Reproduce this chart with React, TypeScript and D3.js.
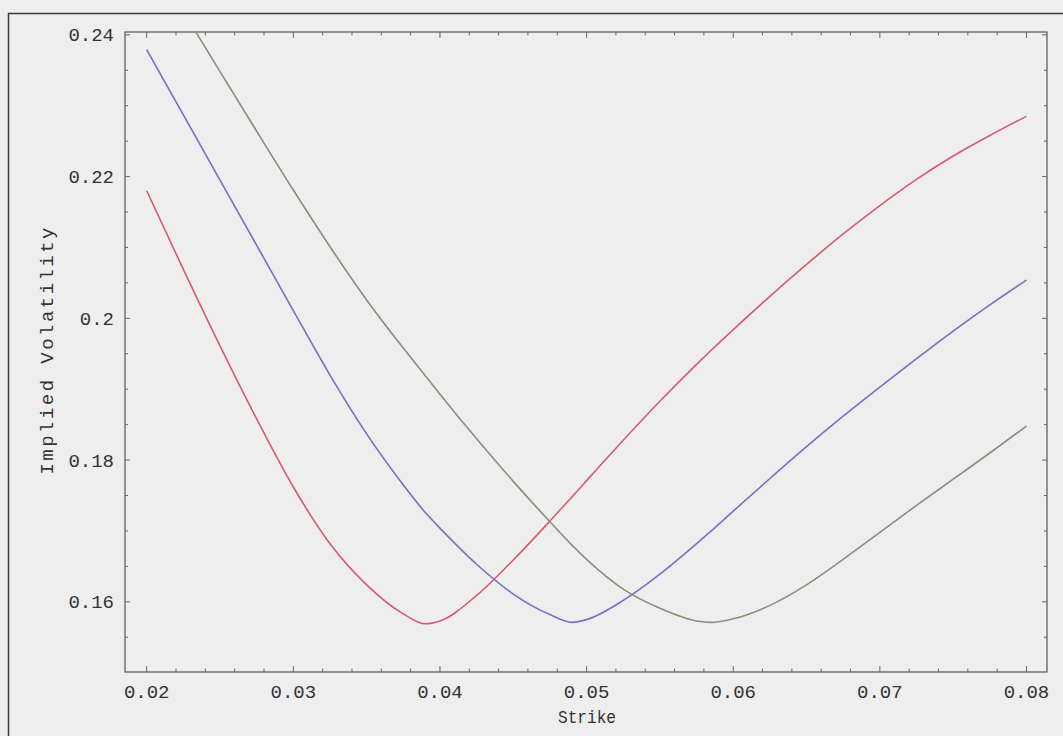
import React, { useEffect, useRef } from "react";
import * as d3 from "d3";

const strikes = [0.02, 0.0225, 0.025, 0.0275, 0.03, 0.0325, 0.035, 0.0375, 0.039, 0.04, 0.0425, 0.045, 0.0475, 0.049, 0.05, 0.0525, 0.055, 0.0575, 0.0585, 0.06, 0.0625, 0.065, 0.0675, 0.07, 0.0725, 0.075, 0.0775, 0.08];

const redVol = [0.2180, 0.2069, 0.1961, 0.1858, 0.1762, 0.1682, 0.1624, 0.1583, 0.1569, 0.1573, 0.1609, 0.1659, 0.1714, 0.1748, 0.1771, 0.1828, 0.1883, 0.1935, 0.1955, 0.1984, 0.2031, 0.2076, 0.2119, 0.2159, 0.2196, 0.2229, 0.2258, 0.2285];
const blueVol = [0.2379, 0.2287, 0.2195, 0.2103, 0.2011, 0.1920, 0.1837, 0.1765, 0.1726, 0.1704, 0.1653, 0.1611, 0.1582, 0.1571, 0.1575, 0.1602, 0.1639, 0.1682, 0.1700, 0.1728, 0.1774, 0.1819, 0.1862, 0.1903, 0.1943, 0.1982, 0.2019, 0.2054];
const grayVol = [0.2518, 0.2433, 0.2348, 0.2264, 0.2181, 0.2101, 0.2026, 0.1958, 0.1919, 0.1893, 0.1830, 0.1770, 0.1713, 0.1680, 0.1660, 0.1618, 0.1591, 0.1573, 0.1571, 0.1576, 0.1595, 0.1624, 0.1660, 0.1698, 0.1736, 0.1773, 0.1810, 0.1848];

const xMajor = [0.02, 0.03, 0.04, 0.05, 0.06, 0.07, 0.08];
const xMajorLabels = ["0.02", "0.03", "0.04", "0.05", "0.06", "0.07", "0.08"];
const yMajor = [0.16, 0.18, 0.2, 0.22, 0.24];
const yMajorLabels = ["0.16", "0.18", "0.2", "0.22", "0.24"];

const seriesList = [
  { name: "red", values: redVol, color: "#d65a72" },
  { name: "blue", values: blueVol, color: "#7272c4" },
  { name: "gray", values: grayVol, color: "#87907c" },
];

const W = 1063;
const H = 736;
const FONT = "'Courier New', 'Nimbus Mono PS', FreeMono, 'Liberation Mono', monospace";

export default function App() {
  const ref = useRef<SVGSVGElement>(null);

  useEffect(() => {
    const svg = d3.select(ref.current);
    svg.selectAll("*").remove();

    const left = 125, right = 1047, top = 32, bottom = 672;
    const x = d3.scaleLinear().domain([0.01852, 0.0814]).range([left, right]);
    const y = d3.scaleLinear().domain([0.1501, 0.2404]).range([bottom, top]);

    svg.append("rect").attr("width", W).attr("height", H).attr("fill", "#eeeeee");

    svg.append("rect")
      .attr("x", 8.5).attr("y", 13.5).attr("width", W + 20).attr("height", H + 20)
      .attr("fill", "none").attr("stroke", "#3a3a3a").attr("stroke-width", 1.5);

    svg.append("defs").append("clipPath").attr("id", "plotclip")
      .append("rect").attr("x", left).attr("y", top).attr("width", right - left).attr("height", bottom - top);

    svg.append("rect")
      .attr("x", left).attr("y", top).attr("width", right - left).attr("height", bottom - top)
      .attr("fill", "none").attr("stroke", "#555").attr("stroke-width", 1.2);

    const tickColor = "#666";
    const xMinor = d3.range(0.02, 0.0801, 0.002);
    xMinor.forEach((v) => {
      const isMajor = xMajor.some((m) => Math.abs(m - v) < 1e-9);
      const len = isMajor ? 6 : 3.5;
      const px = x(v);
      svg.append("line").attr("x1", px).attr("x2", px).attr("y1", bottom).attr("y2", bottom - len)
        .attr("stroke", tickColor).attr("stroke-width", 1);
      svg.append("line").attr("x1", px).attr("x2", px).attr("y1", top).attr("y2", top + len)
        .attr("stroke", tickColor).attr("stroke-width", 1);
    });
    const yMinor = d3.range(0.155, 0.2401, 0.005);
    yMinor.forEach((v) => {
      const isMajor = yMajor.some((m) => Math.abs(m - v) < 1e-9);
      const len = isMajor ? 5 : 3;
      const py = y(v);
      svg.append("line").attr("x1", left).attr("x2", left + len).attr("y1", py).attr("y2", py)
        .attr("stroke", tickColor).attr("stroke-width", 1);
      svg.append("line").attr("x1", right).attr("x2", right - len).attr("y1", py).attr("y2", py)
        .attr("stroke", tickColor).attr("stroke-width", 1);
    });

    xMajor.forEach((v, i) => {
      svg.append("text").attr("x", x(v)).attr("y", 698)
        .attr("text-anchor", "middle").attr("font-family", FONT).attr("font-size", 19)
        .attr("fill", "#333").text(xMajorLabels[i]);
    });
    yMajor.forEach((v, i) => {
      svg.append("text").attr("x", 114).attr("y", y(v) + 6.5)
        .attr("text-anchor", "end").attr("font-family", FONT).attr("font-size", 19)
        .attr("fill", "#333").text(yMajorLabels[i]);
    });

    svg.append("text").attr("x", 587).attr("y", 723)
      .attr("text-anchor", "middle").attr("font-family", FONT).attr("font-size", 18)
      .attr("textLength", 58).attr("lengthAdjust", "spacingAndGlyphs")
      .attr("fill", "#333").text("Strike");
    svg.append("text")
      .attr("transform", "translate(53,351) rotate(-90)")
      .attr("text-anchor", "middle").attr("font-family", FONT).attr("font-size", 19)
      .attr("textLength", 247).attr("lengthAdjust", "spacing")
      .attr("fill", "#333").text("Implied Volatility");

    const line = d3.line<number>()
      .x((_, i) => x(strikes[i]))
      .y((d) => y(d))
      .curve(d3.curveMonotoneX);

    const g = svg.append("g").attr("clip-path", "url(#plotclip)");
    seriesList.forEach((s) => {
      g.append("path").attr("d", line(s.values) as string)
        .attr("fill", "none").attr("stroke", s.color).attr("stroke-width", 1.6);
    });
  }, []);

  return (
    <div style={{ position: "absolute", left: 0, top: 0 }}>
      <svg ref={ref} width={W} height={H} style={{ display: "block" }} />
    </div>
  );
}
